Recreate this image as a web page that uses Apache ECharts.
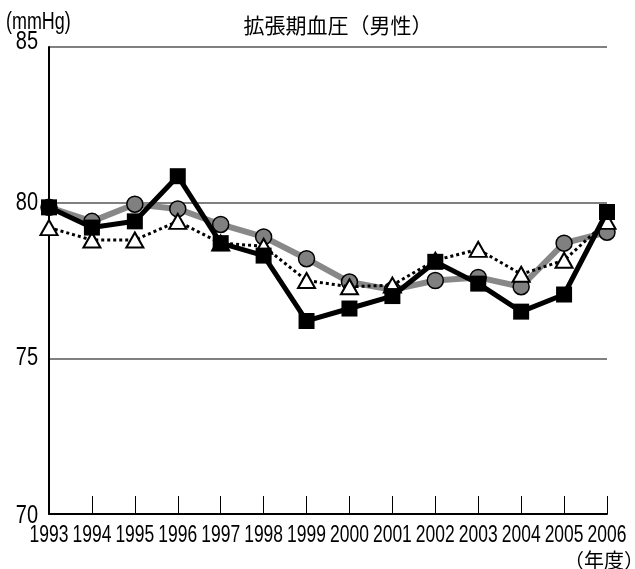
<!DOCTYPE html>
<html>
<head>
<meta charset="utf-8">
<script src="https://cdn.jsdelivr.net/npm/echarts@6/dist/echarts.min.js"></script>
<style>html,body{margin:0;padding:0;background:#fff}#c{width:635px;height:569px}</style>
</head>
<body>
<div id="c"></div>
<script>
const years = ['1993','1994','1995','1996','1997','1998','1999','2000','2001','2002','2003','2004','2005','2006'];
const circleSeries = [79.85, 79.4, 79.95, 79.8, 79.3, 78.9, 78.2, 77.45, 77.2, 77.5, 77.6, 77.3, 78.7, 79.05];
const triangleSeries = [79.2, 78.8, 78.8, 79.4, 78.7, 78.6, 77.5, 77.3, 77.35, 78.15, 78.5, 77.7, 78.15, 79.4];
const squareSeries = [79.85, 79.2, 79.4, 80.85, 78.7, 78.3, 76.2, 76.6, 77.0, 78.1, 77.4, 76.5, 77.05, 79.7];
const yTicks = [70, 75, 80, 85];

const SANS = '"Liberation Sans", Arial, sans-serif';
const CJK = '"Noto Sans CJK JP","Noto Sans CJK SC",sans-serif';
const chart = echarts.init(document.getElementById('c'), null, {renderer: 'canvas'});

const baseOption = {
  animation: false,
  backgroundColor: '#fff',
  title: {
    text: '拡張期血圧（男性）', left: 333, top: 10, textAlign: 'center',
    textStyle: {fontFamily: CJK, fontSize: 21, fontWeight: 'normal', color: '#000'}
  },
  grid: {left: 49, right: 28, top: 47, bottom: 55, containLabel: false},
  xAxis: {
    type: 'category', data: years, boundaryGap: false,
    axisLine: {lineStyle: {color: '#000', width: 2}},
    axisTick: {inside: true, length: 18, lineStyle: {color: '#000', width: 1}, alignWithLabel: true},
    axisLabel: {show: false},
    splitLine: {show: false}
  },
  yAxis: {
    type: 'value', min: yTicks[0], max: yTicks[yTicks.length - 1], interval: 5,
    axisLine: {show: true, lineStyle: {color: '#000', width: 2}},
    axisTick: {show: false},
    axisLabel: {show: false},
    splitLine: {show: true, lineStyle: {color: '#808080', width: 2}}
  },
  series: [
    {
      name: 'circle', type: 'line', data: circleSeries, z: 2,
      symbol: 'circle', symbolSize: 16,
      lineStyle: {color: '#888', width: 6},
      itemStyle: {color: '#808080', borderColor: '#000', borderWidth: 1.5}
    },
    {
      name: 'triangle', type: 'line', data: triangleSeries, z: 3,
      symbol: 'triangle', symbolSize: [17, 15],
      lineStyle: {color: '#000', width: 3, type: [3, 3]},
      itemStyle: {color: '#fff', borderColor: '#000', borderWidth: 2}
    },
    {
      name: 'square', type: 'line', data: squareSeries, z: 4,
      symbol: 'rect', symbolSize: 16,
      lineStyle: {color: '#000', width: 5},
      itemStyle: {color: '#000', borderColor: '#000', borderWidth: 0}
    }
  ]
};
chart.setOption(baseOption);

// Axis labels drawn as condensed text at positions from the chart's own scales
const graphics = [];
years.forEach(function (y) {
  const px = chart.convertToPixel({xAxisIndex: 0}, y);
  graphics.push({
    type: 'text', x: px, y: 536, scaleX: 0.76, z: 10,
    style: {text: y, fontFamily: SANS, fontSize: 23, fill: '#000', textAlign: 'center', textVerticalAlign: 'middle'}
  });
});
yTicks.forEach(function (v) {
  const py = chart.convertToPixel({yAxisIndex: 0}, v);
  graphics.push({
    type: 'text', x: 38, y: py + (v === 85 ? -5 : (v === 70 ? 2 : 0)), scaleX: 0.8, z: 10,
    style: {text: String(v), fontFamily: SANS, fontSize: 25, fill: '#000', textAlign: 'right', textVerticalAlign: 'middle'}
  });
});
graphics.push({
  type: 'text', x: 6, y: 23, scaleX: 0.78, z: 10,
  style: {text: '(mmHg)', fontFamily: SANS, fontSize: 23, fill: '#000', textAlign: 'left', textVerticalAlign: 'middle'}
});
graphics.push({
  type: 'text', x: 604, y: 560, z: 10,
  style: {text: '（年度）', fontFamily: CJK, fontSize: 20, fill: '#000', textAlign: 'center', textVerticalAlign: 'middle'}
});
chart.setOption({graphic: graphics});
</script>
</body>
</html>
